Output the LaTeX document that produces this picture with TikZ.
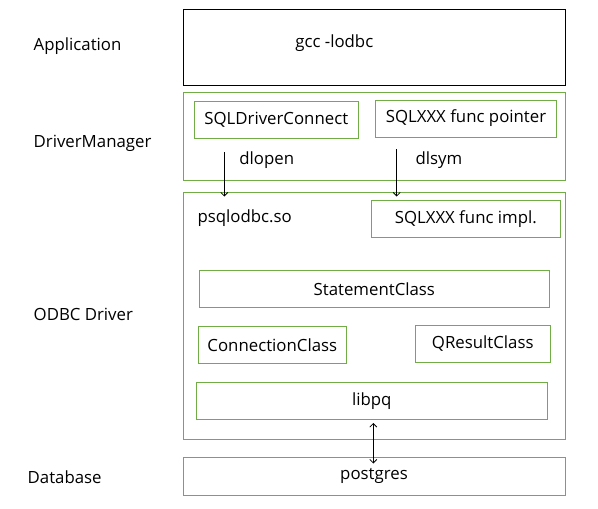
\documentclass[tikz,border=0pt]{standalone}
\usepackage{fontspec}
\setmainfont{Open Sans}
\usetikzlibrary{arrows.meta}
\definecolor{boxgreen}{RGB}{112,173,71}
\begin{document}
\begin{tikzpicture}[x=1pt,y=-1pt,
  every node/.style={font=\fontsize{16.8}{20}\selectfont, text=black},
  box/.style={draw=boxgreen, line width=1pt, inner sep=0pt, rectangle},
  appbox/.style={draw=black, line width=1pt, inner sep=0pt, rectangle},
  lbl/.style={inner sep=0pt, anchor=west},
  arr/.style={-{Straight Barb[length=3.5pt,width=7pt]}, line width=0.8pt},
  darr/.style={{Straight Barb[length=3.5pt,width=7pt]}-{Straight Barb[length=3.5pt,width=7pt]}, line width=0.8pt}]
\useasboundingbox (0,0) rectangle (598,509);
% left labels
\node[lbl] (lapp) at (33.5,46) {Application};
\node[lbl] (ldm) at (33.5,143) {DriverManager};
\node[lbl] (lodbc) at (33.5,314) {ODBC Driver};
\node[lbl] (ldb) at (27.5,477) {Database};
% application
\node[appbox, minimum width=382pt, minimum height=76pt] (app) at (374,47) {};
\node[inner sep=0pt] (gcc) at (334.3,43) {gcc -lodbc};
% driver manager
\node[box, minimum width=382pt, minimum height=87.5pt] (dm) at (374,136.5) {};
\node[box, minimum width=164pt, minimum height=37pt] (sdc) at (276.3,119.5) {SQLDriverConnect};
\node[box, minimum width=181.4pt, minimum height=37pt] (sfp) at (466,118.5) {SQLXXX func pointer};
\node[inner sep=0pt] (dlopen) at (266.7,160) {dlopen};
\node[inner sep=0pt] (dlsym) at (439,160) {dlsym};
% odbc driver
\node[box, minimum width=382pt, minimum height=247.3pt] (odbc) at (374,316.3) {};
\node[lbl] (psql) at (197.3,218) {psqlodbc.so};
\node[box, minimum width=189pt, minimum height=36.6pt] (sfi) at (465.8,219) {SQLXXX func impl.};
\node[box, minimum width=350pt, minimum height=37pt] (stmt) at (374.3,288.8) {StatementClass};
\node[box, minimum width=148pt, minimum height=37pt] (conn) at (272.3,344.8) {ConnectionClass};
\node[box, minimum width=135pt, minimum height=37pt] (qres) at (482.8,343.8) {QResultClass};
\node[box, minimum width=351pt, minimum height=37pt] (libpq) at (371.8,400.8) {libpq};
% database
\node[box, minimum width=382pt, minimum height=38pt] (pg) at (374,476.3) {postgres};
% arrows
\coordinate (a1s) at (224.3,152);
\coordinate (a1e) at (224.3,196.5);
\coordinate (a2s) at (396.7,149);
\coordinate (a2e) at (396.7,196.5);
\coordinate (a3s) at (373.3,423);
\coordinate (a3e) at (373.3,463.5);
\draw[arr] (a1s) -- (a1e);
\draw[arr] (a2s) -- (a2e);
\draw[darr] (a3s) -- (a3e);
\end{tikzpicture}
\end{document}
